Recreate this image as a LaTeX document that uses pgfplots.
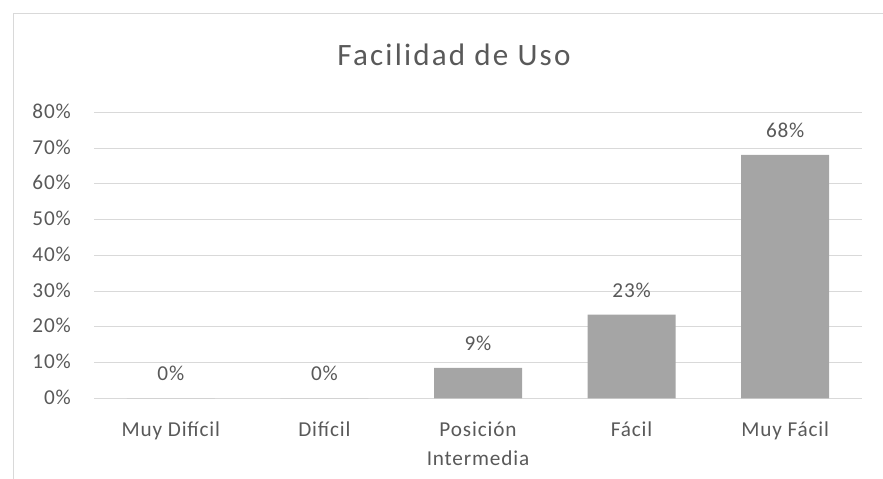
\documentclass[border=0pt]{standalone}
\usepackage{fontspec}
\setmainfont{Carlito}
\newfontfamily\ttl[LetterSpace=7]{Carlito}
\newfontfamily\lbl[LetterSpace=4]{Carlito}
\usepackage{pgfplots}
\pgfplotsset{compat=1.18}
\definecolor{txt}{HTML}{595959}
\definecolor{grd}{HTML}{D9D9D9}
\definecolor{barc}{HTML}{A5A5A5}
\begin{document}
\begin{tikzpicture}[x=1bp,y=1bp]
\useasboundingbox (0,0) rectangle (883,479);
\draw[grd, line width=1bp] (13.5,0) -- (13.5,465.5) -- (883,465.5);
\node[anchor=base, text=txt, font=\ttl\fontsize{31.2}{36}\selectfont, inner sep=0pt] at (454,413.3) {Facilidad de Uso};
\begin{axis}[
 at={(94bp,80.7bp)}, anchor=south west,
 scale only axis, width=768bp, height=286bp,
 xmin=-0.5, xmax=4.5, ymin=0, ymax=80,
 axis line style={draw=none},
 major tick length=0pt,
 ytick={0,10,...,80},
 ymajorgrids, major grid style={grd, line width=1bp},
 xtick={0,1,2,3,4},
 xticklabels={Muy Difícil, Difícil, {\begin{tabular}[t]{@{}c@{}}Posición\\Intermedia\end{tabular}}, Fácil, Muy Fácil},
 /pgf/number format/assume math mode=true,
 yticklabel={\pgfmathprintnumber{\tick}\%},
 yticklabel style={anchor=base east, inner sep=0pt, xshift=-23bp, yshift=-6bp, text=txt, font=\lbl\fontsize{21.3}{25}\selectfont},
 xticklabel style={anchor=base, inner sep=0pt, yshift=-38.7bp, text=txt, font=\lbl\fontsize{21.3}{28.7}\selectfont},
 ybar, bar width=88bp,
 nodes near coords={\pgfmathprintnumber[fixed,precision=0]{\pgfplotspointmeta}\%},
 every node near coord/.append style={anchor=base, inner sep=0pt, yshift=17.3bp, text=txt, font=\lbl\fontsize{21.3}{25}\selectfont},
 clip=false,
]
\addplot[fill=barc, draw=none] coordinates {(0,0) (1,0) (2,8.51) (3,23.40) (4,68.09)};
\end{axis}
\end{tikzpicture}
\end{document}
